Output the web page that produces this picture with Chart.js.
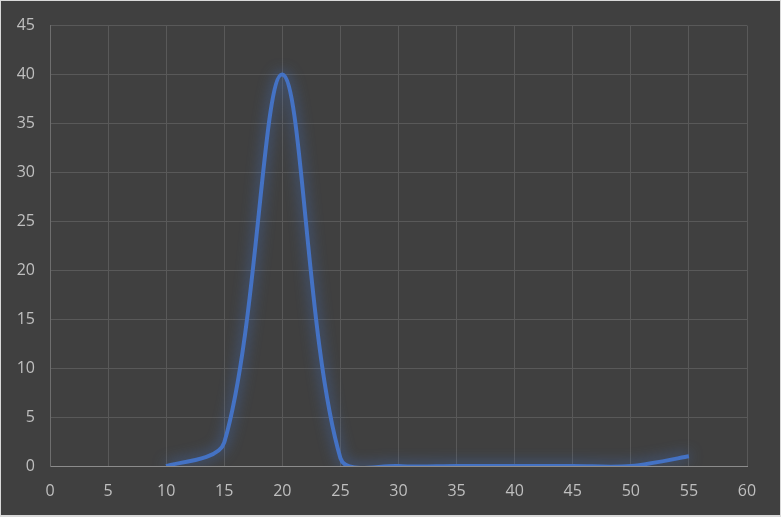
<!DOCTYPE html>
<html>
<head>
<meta charset="utf-8">
<script src="https://cdn.jsdelivr.net/npm/chart.js@4"></script>
<style>
  html, body { margin: 0; padding: 0; background: #d9d9d9; }
  #wrap { position: absolute; left: 1px; top: 1px; width: 779px; height: 514px; background: #404040; }
</style>
</head>
<body>
<div id="wrap"><canvas id="chart" width="779" height="514"></canvas></div>
<script>
const xValues = [10, 15, 20, 25, 30, 35, 40, 45, 50, 55];
const yValues = [0, 2.4, 40, 0.8, 0, 0, 0, 0, 0, 1];
const xTicks = [0, 5, 10, 15, 20, 25, 30, 35, 40, 45, 50, 55, 60];
const yTicks = [0, 5, 10, 15, 20, 25, 30, 35, 40, 45];

// Excel starts a smoothed line with a shorter handle than Chart.js does
const smoothEnds = {
  id: "smoothEnds",
  beforeDatasetDraw(chart, args) {
    const meta = args.meta;
    const line = meta.dataset;
    const pts = meta.data;
    if (!line || pts.length < 2) return;
    line.updateControlPoints(chart.chartArea);
    const a = pts[0], b = pts[1];
    a.cp2x = a.x + (b.x - a.x) / 6;
    a.cp2y = a.y + (b.y - a.y) / 6;
    const y = pts[pts.length - 1], z = pts[pts.length - 2];
    y.cp1x = y.x - (y.x - z.x) / 6;
    y.cp1y = y.y - (y.y - z.y) / 6;
  }
};

// soft blue glow under the line, like Excel's glow effect
const glow = {
  id: "glow",
  beforeDatasetDraw(chart) {
    const ctx = chart.ctx;
    ctx.save();
    ctx.shadowColor = "rgba(68, 114, 196, 0.9)";
    ctx.shadowBlur = 14;
  },
  afterDatasetDraw(chart) {
    chart.ctx.restore();
  }
};

const points = xValues.map((x, i) => ({ x: x, y: yValues[i] }));

new Chart(document.getElementById("chart"), {
  type: "scatter",
  data: {
    datasets: [
      {
        data: points,
        showLine: true,
        borderColor: "#4472C4",
        borderWidth: 4,
        tension: 0.33,
        capBezierPoints: false,
        pointRadius: 0,
        fill: false
      }
    ]
  },
  options: {
    responsive: false,
    animation: false,
    layout: { padding: { left: 0, right: 33, top: 23, bottom: 0 } },
    plugins: { legend: { display: false }, tooltip: { enabled: false } },
    scales: {
      x: {
        type: "linear",
        min: 0,
        max: 60,
        afterBuildTicks: (s) => { s.ticks = xTicks.map((v) => ({ value: v })); },
        afterFit: (s) => { s.height = 49; },
        grid: { color: "#595959", drawTicks: false },
        border: { color: "#8c8c8c" },
        ticks: { color: "#bfbfbf", padding: 16, font: { family: "Open Sans", size: 16 } }
      },
      y: {
        min: 0,
        max: 45,
        afterBuildTicks: (s) => { s.ticks = yTicks.map((v) => ({ value: v })); },
        afterFit: (s) => { s.width = 49; },
        grid: { color: "#595959", drawTicks: false },
        border: { color: "#6e6e6e" },
        ticks: { color: "#bfbfbf", padding: 15, font: { family: "Open Sans", size: 16 } }
      }
    }
  },
  plugins: [smoothEnds, glow]
});
</script>
</body>
</html>
